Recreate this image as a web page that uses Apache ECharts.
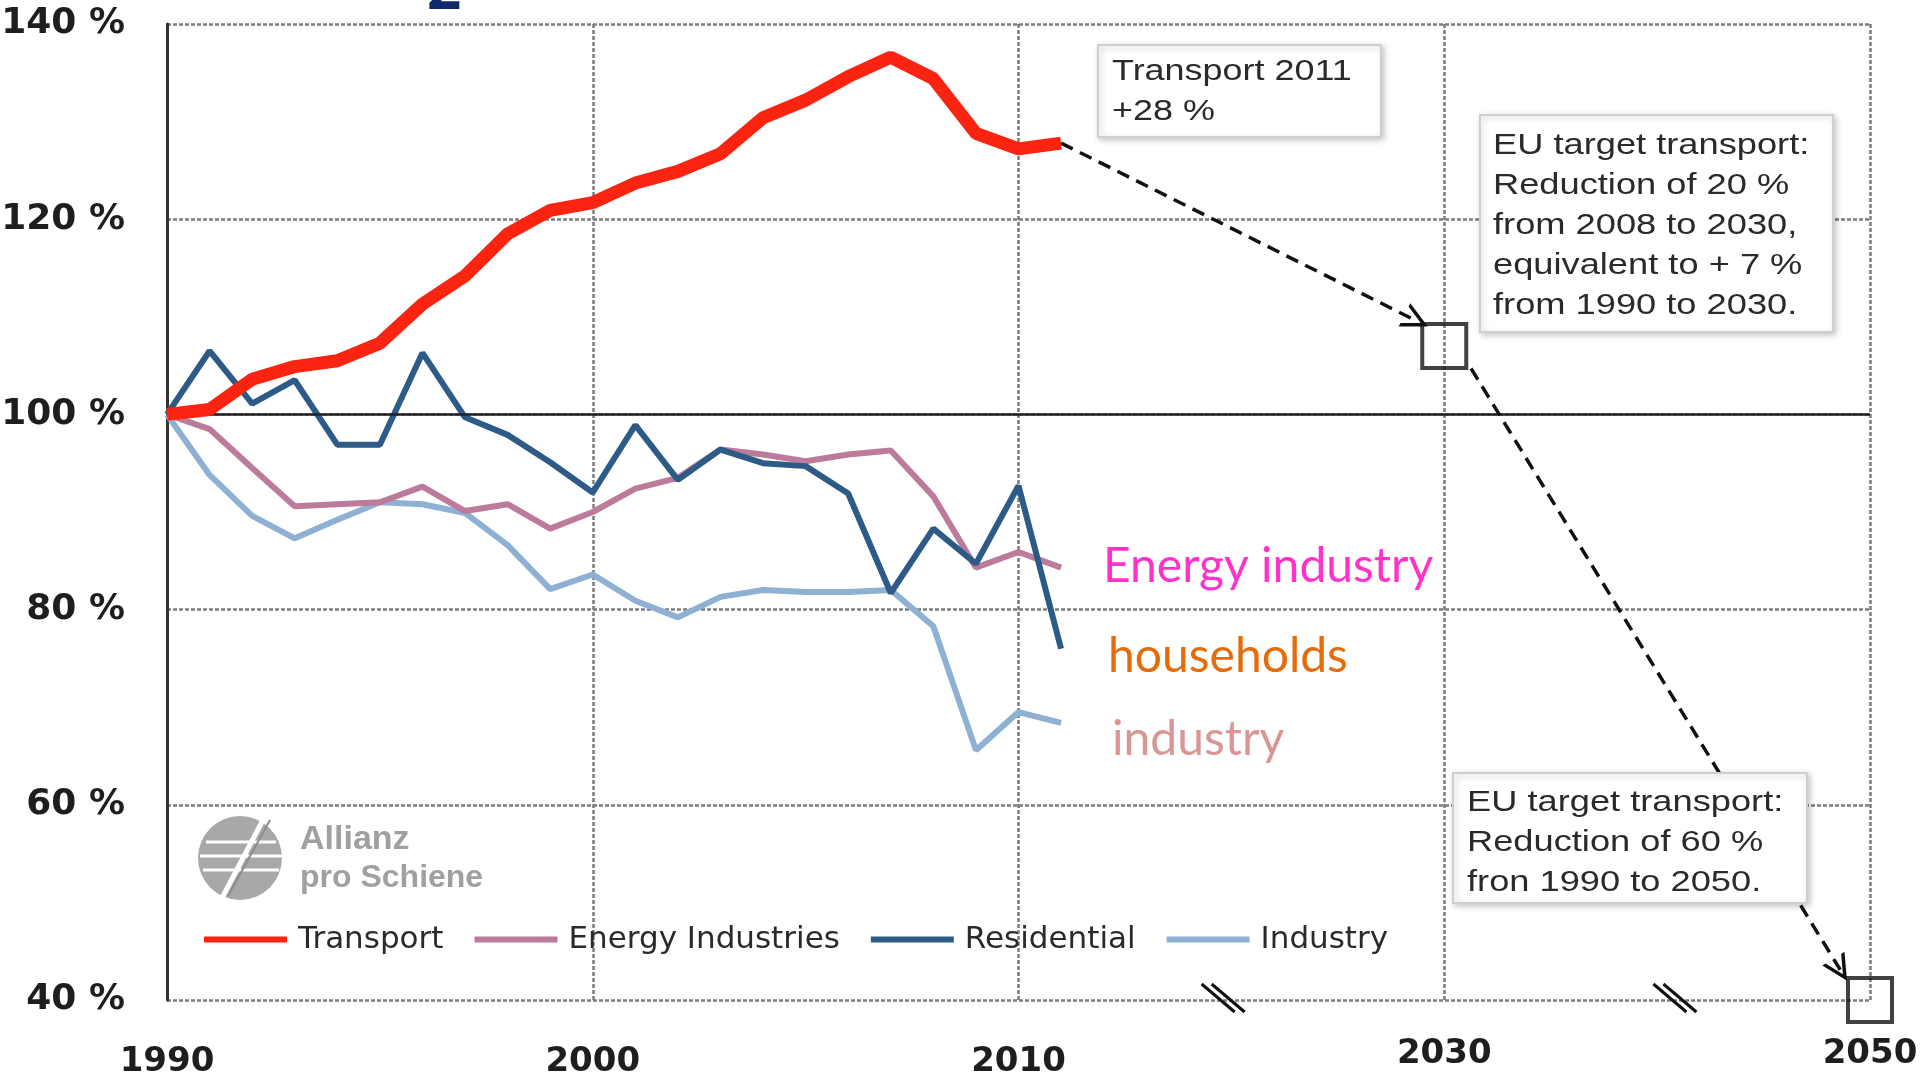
<!DOCTYPE html>
<html>
<head>
<meta charset="utf-8">
<style>
html,body{margin:0;padding:0;background:#ffffff;}
#chart{width:1920px;height:1082px;}
</style>
<script src="https://cdn.jsdelivr.net/npm/echarts@6/dist/echarts.min.js"></script>
</head>
<body>
<div id="chart"></div>
<script>
// ---------------- data ----------------
const years = [1990,1991,1992,1993,1994,1995,1996,1997,1998,1999,2000,2001,2002,2003,2004,2005,2006,2007,2008,2009,2010,2011];
const transport = [100,100.5,103.6,104.9,105.5,107.3,111.3,114.2,118.5,120.9,121.7,123.7,124.9,126.7,130.4,132.2,134.6,136.6,134.4,128.8,127.2,127.8];
const energyIndustries = [100,98.5,94.5,90.6,90.8,91.0,92.6,90.1,90.8,88.3,90.0,92.4,93.5,96.4,95.9,95.2,95.9,96.3,91.6,84.3,85.9,84.3];
const residential = [100,106.5,101.1,103.5,96.9,96.9,106.3,99.7,97.9,95.1,92.0,98.9,93.3,96.4,95.0,94.7,91.9,81.7,88.3,84.7,92.7,76.0];
const industry = [100,93.8,89.6,87.3,89.2,91.0,90.8,89.9,86.6,82.1,83.6,80.9,79.2,81.3,82.0,81.8,81.8,82.0,78.3,65.6,69.5,68.4];
const targetYears = [2030, 2050];
const targetValues = [107, 40];
const xTickYears = [1990, 2000, 2010, 2030, 2050];
const yTicks = [40, 60, 80, 100, 120, 140];
const seriesNames = ['Transport', 'Energy Industries', 'Residential', 'Industry'];
const breakYears = [2018.5, 2041];

// broken time axis: full scale up to 2012, then compressed up to 2030 and 2050
function yearToPos(y) {
  if (y <= 2012) return y - 1990;
  if (y <= 2030) return 22 + (y - 2012) * 8 / 18;
  return 30 + (y - 2030) / 2;
}
function posToYear(p) {
  if (p <= 22) return 1990 + p;
  if (p <= 30) return 2012 + (p - 22) * 18 / 8;
  return 2030 + (p - 30) * 2;
}
const toPairs = arr => years.map((y, i) => [yearToPos(y), arr[i]]);

const colors = {
  'Transport': '#fa2410',
  'Energy Industries': '#bd7b9c',
  'Residential': '#2d5b87',
  'Industry': '#8db0d3'
};

const gridStyle = { color: '#7c7c7c', width: 2.5, type: [4, 2] };
const chevron = 'path://M0,20 L10,0 L20,20 L17,20 L10,6 L3,20 Z';

const option = {
  animation: false,
  backgroundColor: '#ffffff',
  grid: { left: 167, right: 50, top: 24, bottom: 82, containLabel: false, outerBoundsMode: 'none' },
  xAxis: {
    type: 'value',
    min: yearToPos(xTickYears[0]),
    max: yearToPos(xTickYears[xTickYears.length - 1]),
    interval: 10,
    axisLine: { show: false },
    axisTick: { show: false },
    splitLine: { show: true, lineStyle: gridStyle },
    axisLabel: {
      margin: 36,
      formatter: v => {
        const yr = Math.round(posToYear(v));
        if (xTickYears.indexOf(yr) < 0) return '';
        return yr > 2010 ? '{b|' + yr + '}' : '{a|' + yr + '}';
      },
      rich: {
        a: { fontFamily: 'DejaVu Sans', fontWeight: 'bold', fontSize: 34, color: '#1e1e1e', lineHeight: 36, padding: [16, 0, 0, 0] },
        b: { fontFamily: 'DejaVu Sans', fontWeight: 'bold', fontSize: 34, color: '#1e1e1e', lineHeight: 36 }
      }
    }
  },
  yAxis: {
    type: 'value',
    min: yTicks[0],
    max: yTicks[yTicks.length - 1],
    interval: 20,
    axisLine: { show: true, lineStyle: { color: '#333', width: 3 } },
    axisTick: { show: false },
    splitLine: { show: true, lineStyle: gridStyle },
    axisLabel: {
      margin: 42,
      formatter: '{value} %',
      fontFamily: 'DejaVu Sans', fontWeight: 'bold', fontSize: 36, color: '#1e1e1e'
    }
  },
  legend: {
    data: seriesNames,
    left: 199,
    top: 919,
    icon: 'rect',
    itemWidth: 83,
    itemHeight: 6,
    itemGap: 31,
    selectedMode: false,
    textStyle: { fontFamily: 'DejaVu Sans', fontSize: 31, color: '#2a2a2a', padding: [0, 0, 0, 6] }
  },
  series: [
    {
      name: 'Industry', type: 'line', data: toPairs(industry), symbol: 'none', z: 2,
      lineStyle: { width: 6, color: colors['Industry'] }, itemStyle: { color: colors['Industry'] },
      markLine: {
        silent: true, symbol: 'none', label: { show: false },
        lineStyle: { type: 'solid', color: '#222', width: 2.5 },
        data: [{ yAxis: 100 }]
      }
    },
    {
      name: 'Energy Industries', type: 'line', data: toPairs(energyIndustries), symbol: 'none', z: 3,
      lineStyle: { width: 6, color: colors['Energy Industries'] }, itemStyle: { color: colors['Energy Industries'] }
    },
    {
      name: 'Residential', type: 'line', data: toPairs(residential), symbol: 'none', z: 4,
      lineStyle: { width: 6, color: colors['Residential'] }, itemStyle: { color: colors['Residential'] }
    },
    {
      name: 'Transport', type: 'line', data: toPairs(transport), symbol: 'none', z: 5,
      lineStyle: { width: 13, color: colors['Transport'] }, itemStyle: { color: colors['Transport'] }
    },
    {
      name: 'EU target', type: 'scatter', z: 6, clip: false, silent: true,
      data: targetYears.map((y, i) => [yearToPos(y), targetValues[i]]),
      symbol: 'rect', symbolSize: 44,
      itemStyle: { color: 'rgba(255,255,255,0)', borderColor: '#111', borderWidth: 4 },
      markLine: {
        silent: true,
        symbol: ['none', chevron],
        symbolSize: 26,
        label: { show: false },
        lineStyle: { type: [13, 8], width: 3.5, color: '#111' },
        data: [
          [
            { coord: [yearToPos(years[years.length - 1]), transport[transport.length - 1]] },
            { coord: [yearToPos(targetYears[0]) - 0.66, targetValues[0] + 2.6] }
          ],
          [
            { coord: [yearToPos(targetYears[0]) + 0.63, targetValues[0] - 2.3] },
            { coord: [yearToPos(targetYears[1]) - 0.7, targetValues[1] + 3.1] }
          ]
        ]
      }
    }
  ]
};

const chart = echarts.init(document.getElementById('chart'), null, { renderer: 'canvas' });
chart.setOption(option);

// ---------------- annotations ----------------
const boxStyle = { fill: '#ffffff', stroke: '#cfcfcf', lineWidth: 2, shadowBlur: 6, shadowColor: 'rgba(0,0,0,0.22)', shadowOffsetX: 2, shadowOffsetY: 2 };
const noteFont = '29px "Liberation Sans", Arial, sans-serif';
const gfx = [
  // cut-off title subscript
  { type: 'text', x: 427, y: -8, style: { text: '2', font: 'bold 60px "Noto Sans"', fill: '#10296b', verticalAlign: 'middle' }, z: 100 },
  // note boxes
  { type: 'rect', shape: { x: 1098, y: 45, width: 283, height: 92 }, style: boxStyle, z: 50 },
  { type: 'text', x: 1112, y: 92, scaleX: 1.24, style: { text: 'Transport 2011\n+28 %', font: noteFont, fill: '#2a2a2a', lineHeight: 40, verticalAlign: 'middle' }, z: 51 },
  { type: 'rect', shape: { x: 1480, y: 115, width: 353, height: 217 }, style: boxStyle, z: 50 },
  { type: 'text', x: 1493, y: 226, scaleX: 1.25, style: { text: 'EU target transport:\nReduction of 20 %\nfrom 2008 to 2030,\nequivalent to + 7 %\nfrom 1990 to 2030.', font: noteFont, fill: '#2a2a2a', lineHeight: 40, verticalAlign: 'middle' }, z: 51 },
  { type: 'rect', shape: { x: 1453, y: 773, width: 354, height: 130 }, style: boxStyle, z: 50 },
  { type: 'text', x: 1467, y: 843, scaleX: 1.25, style: { text: 'EU target transport:\nReduction of 60 %\nfron 1990 to 2050.', font: noteFont, fill: '#2a2a2a', lineHeight: 40, verticalAlign: 'middle' }, z: 51 },
  // coloured labels
  { type: 'text', x: 1103, y: 567, style: { text: 'Energy industry', font: '48px Lato', fill: '#ff33cc', verticalAlign: 'middle' }, z: 60 },
  { type: 'text', x: 1108, y: 657, style: { text: 'households', font: '48px Lato', fill: '#e46c0a', verticalAlign: 'middle' }, z: 60 },
  { type: 'text', x: 1112, y: 740, style: { text: 'industry', font: '48px Lato', fill: '#d99694', verticalAlign: 'middle' }, z: 60 },
  // logo
  { type: 'circle', shape: { cx: 240, cy: 858, r: 42 }, style: { fill: '#a8a8a8' }, z: 40 },
  { type: 'line', shape: { x1: 206, y1: 842, x2: 276, y2: 842 }, style: { stroke: '#ffffff', lineWidth: 3 }, z: 41 },
  { type: 'line', shape: { x1: 200, y1: 856, x2: 282, y2: 856 }, style: { stroke: '#ffffff', lineWidth: 3 }, z: 41 },
  { type: 'line', shape: { x1: 203, y1: 870, x2: 279, y2: 870 }, style: { stroke: '#ffffff', lineWidth: 3 }, z: 41 },
  { type: 'line', shape: { x1: 222, y1: 898, x2: 264, y2: 818 }, style: { stroke: '#ffffff', lineWidth: 5 }, z: 42 },
  { type: 'line', shape: { x1: 228, y1: 896, x2: 270, y2: 820 }, style: { stroke: '#8c8c8c', lineWidth: 2 }, z: 43 },
  { type: 'text', x: 300, y: 840, style: { text: 'Allianz', font: 'bold 34px "Liberation Sans"', fill: '#a0a0a0', verticalAlign: 'middle' }, z: 40 },
  { type: 'text', x: 300, y: 878, style: { text: 'pro Schiene', font: 'bold 32px "Liberation Sans"', fill: '#a0a0a0', verticalAlign: 'middle' }, z: 40 }
];
// axis break marks
breakYears.forEach(yr => {
  const p = chart.convertToPixel({ gridIndex: 0 }, [yearToPos(yr), yTicks[0]]);
  [-5, 5].forEach(dx => {
    gfx.push({ type: 'line', shape: { x1: p[0] - 20 + dx, y1: p[1] - 16, x2: p[0] + 13 + dx, y2: p[1] + 12 }, style: { stroke: '#111', lineWidth: 3 }, z: 60 });
  });
});
chart.setOption({ graphic: gfx });
</script>
</body>
</html>
